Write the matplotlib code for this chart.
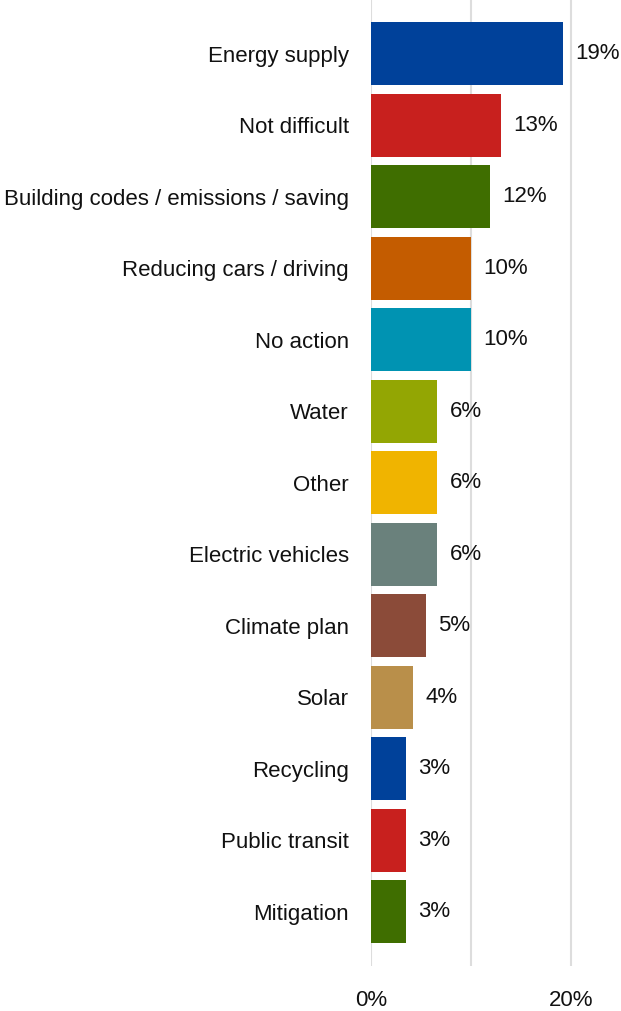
import matplotlib.pyplot as plt
from matplotlib import font_manager

lstCategories = ['Energy supply', 'Not difficult', 'Building codes / emissions / saving',
                 'Reducing cars / driving', 'No action', 'Water', 'Other',
                 'Electric vehicles', 'Climate plan', 'Solar', 'Recycling',
                 'Public transit', 'Mitigation']
lstValues = [19.2, 13.0, 11.9, 10.0, 10.0, 6.6, 6.6, 6.6, 5.5, 4.2, 3.5, 3.5, 3.5]
lstLabels = ['19%', '13%', '12%', '10%', '10%', '6%', '6%', '6%', '5%', '4%', '3%', '3%', '3%']
lstColors = ['#00419A', '#C8201E', '#3F6E00', '#C45C00', '#0093B2', '#93A603', '#F0B400',
             '#6A817C', '#8B4B39', '#B98F4A', '#00419A', '#C8201E', '#3F6E00']
lstTicks = [0, 10, 20]
lstTickLabels = ['0%', '', '20%']

# condensed font if available
setNames = set(f.name for f in font_manager.fontManager.ttflist)
strFont = 'Liberation Sans Narrow' if 'Liberation Sans Narrow' in setNames else 'Liberation Sans'
plt.rcParams['font.family'] = [strFont, 'DejaVu Sans']

fig = plt.figure(figsize=(6.21, 10.11), dpi=100)
ax = fig.add_axes([0.5974, 0.0445, 0.4026, 0.9555])

lstY = list(range(len(lstCategories)))
ax.barh(lstY, lstValues, height=0.88, color=lstColors, zorder=3)

for (y, v, s) in zip(lstY, lstValues, lstLabels):
   ax.annotate(s, xy=(v, y), xytext=(9, 0), textcoords='offset points',
               va='center', ha='left', fontsize=16, color='#111111', clip_on=False)

ax.set_ylim(12.76, -0.75)
ax.set_xlim(0, 25)
ax.set_yticks(lstY)
ax.set_yticklabels(lstCategories, fontsize=16, color='#111111')
ax.set_xticks(lstTicks)
ax.set_xticklabels(lstTickLabels, fontsize=16, color='#111111')
ax.tick_params(axis='y', length=0, pad=16)
ax.tick_params(axis='x', length=0, pad=17)
ax.grid(axis='x', color='#DDDDDD', linewidth=1.5, zorder=0)
for sp in ax.spines.values():
   sp.set_visible(False)

fig.savefig('out.png', dpi=100)
